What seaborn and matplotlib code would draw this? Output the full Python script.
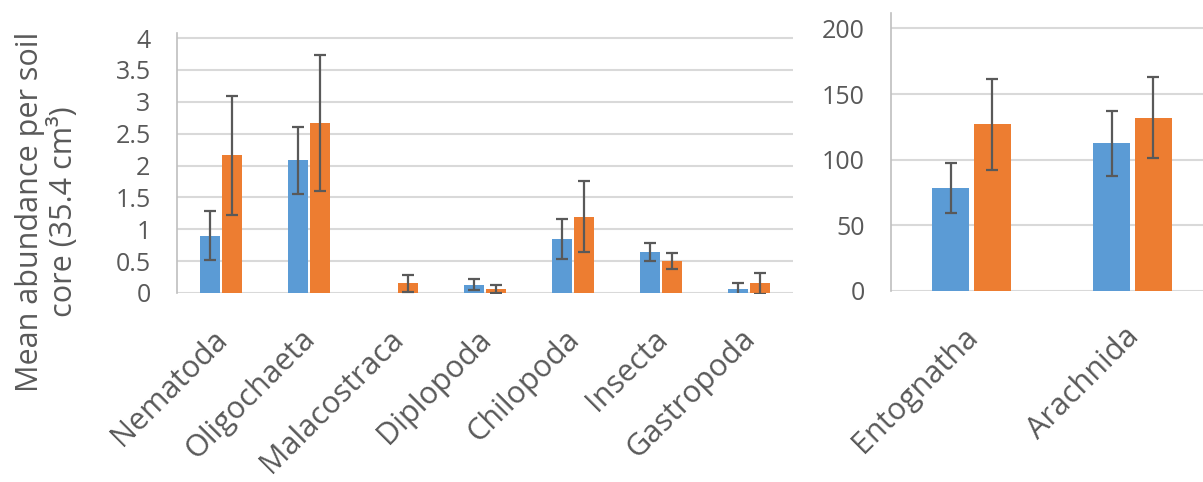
import matplotlib
matplotlib.use("Agg")
import matplotlib.pyplot as plt
import matplotlib.transforms as mtransforms
import seaborn as sns
import pandas as pd

# ---- data ----
groups = ["Series 1", "Series 2"]
left_categories = ["Nematoda", "Oligochaeta", "Malacostraca", "Diplopoda",
                   "Chilopoda", "Insecta", "Gastropoda"]
left_blue = [0.90, 2.08, 0.0, 0.13, 0.85, 0.64, 0.06]
left_blue_err = [0.38, 0.53, 0.0, 0.09, 0.31, 0.14, 0.10]
left_orange = [2.16, 2.67, 0.15, 0.06, 1.20, 0.50, 0.15]
left_orange_err = [0.93, 1.07, 0.13, 0.06, 0.56, 0.12, 0.17]

right_categories = ["Entognatha", "Arachnida"]
right_blue = [78.5, 112.3]
right_blue_err = [19.0, 25.0]
right_orange = [126.8, 132.0]
right_orange_err = [35.0, 31.0]

left_yticks = [0, 0.5, 1, 1.5, 2, 2.5, 3, 3.5, 4]
left_yticklabels = ["0", "0.5", "1", "1.5", "2", "2.5", "3", "3.5", "4"]
right_yticks = [0, 50, 100, 150, 200]

ylabel = "Mean abundance per soil\ncore (35.4 cm³)"

# ---- style ----
sns.set_theme(style="white")
plt.rcParams["font.family"] = ["Open Sans", "DejaVu Sans"]
TEXT = "#595959"
GRID = "#D9D9D9"
palette = {groups[0]: "#5B9BD5", groups[1]: "#ED7D31"}

W, H = 1203, 482
fig = plt.figure(figsize=(W / 100, H / 100), dpi=100)


def px_axes(x0, y_top, x1, y_bot):
    return fig.add_axes([x0 / W, 1 - y_bot / H, (x1 - x0) / W, (y_bot - y_top) / H])


def make_df(cats, b, be, o, oe):
    return pd.DataFrame({
        "category": cats * 2,
        "group": [groups[0]] * len(cats) + [groups[1]] * len(cats),
        "value": list(b) + list(o),
        "err": list(be) + list(oe),
    })


def draw(ax, df, cats, ylim, yticks, yticklabels, fontsize_y, fontsize_x, tick_shift):
    sns.barplot(data=df, x="category", y="value", hue="group", order=cats,
                hue_order=groups, palette=palette, width=0.51, gap=0.1,
                errorbar=None, legend=False, saturation=1, ax=ax,
                edgecolor="none", linewidth=0)
    # error bars on top of each bar (patches ordered by hue, then category)
    bars = [p for p in ax.patches]
    for p, e in zip(bars, df["err"]):
        if e <= 0:
            continue
        xc = p.get_x() + p.get_width() / 2
        ax.errorbar(xc, p.get_height(), yerr=e, fmt="none", ecolor="#595959",
                    elinewidth=1.6, capsize=4.5, capthick=1.6, zorder=5)
    ax.set_xlim(-0.5, len(cats) - 0.5)
    ax.set_ylim(*ylim)
    ax.set_yticks(yticks)
    ax.set_yticklabels(yticklabels)
    ax.yaxis.grid(True, color=GRID, linewidth=1.5)
    ax.set_axisbelow(True)
    for s in ["top", "right", "bottom"]:
        ax.spines[s].set_visible(False)
    ax.spines["left"].set_color("#BFBFBF")
    ax.spines["left"].set_linewidth(1.2)
    ax.tick_params(axis="y", length=0, pad=19, labelsize=fontsize_y, labelcolor=TEXT)
    ax.tick_params(axis="x", length=0, pad=30, labelsize=fontsize_x, labelcolor=TEXT)
    ax.set_xlabel("")
    ax.set_ylabel("")
    offset = mtransforms.ScaledTranslation(tick_shift / 100, 0, fig.dpi_scale_trans)
    for lab in ax.get_xticklabels():
        lab.set_rotation(45)
        lab.set_ha("right")
        lab.set_va("center")
        lab.set_rotation_mode("anchor")
        lab.set_transform(lab.get_transform() + offset)


ax1 = px_axes(177, 33, 793, 293)
df_left = make_df(left_categories, left_blue, left_blue_err, left_orange, left_orange_err)
draw(ax1, df_left, left_categories, (0, 4.08), left_yticks, left_yticklabels, 18, 22, 2)

ax2 = px_axes(891, 12.7, 1213, 290.7)
df_right = make_df(right_categories, right_blue, right_blue_err, right_orange, right_orange_err)
draw(ax2, df_right, right_categories, (0, 212), right_yticks,
     [str(v) for v in right_yticks], 18, 22, 2)

ax1.set_ylabel(ylabel, fontsize=22, color=TEXT, linespacing=1.15)
lab = ax1.yaxis.label
lab.set_rotation_mode("default")
lab.set_ha("center")
lab.set_va("center")
lab.set_multialignment("center")
ax1.yaxis.set_label_coords((47 - 177) / 616, (293 - 212) / 260)

fig.savefig("out.png", dpi=100)
